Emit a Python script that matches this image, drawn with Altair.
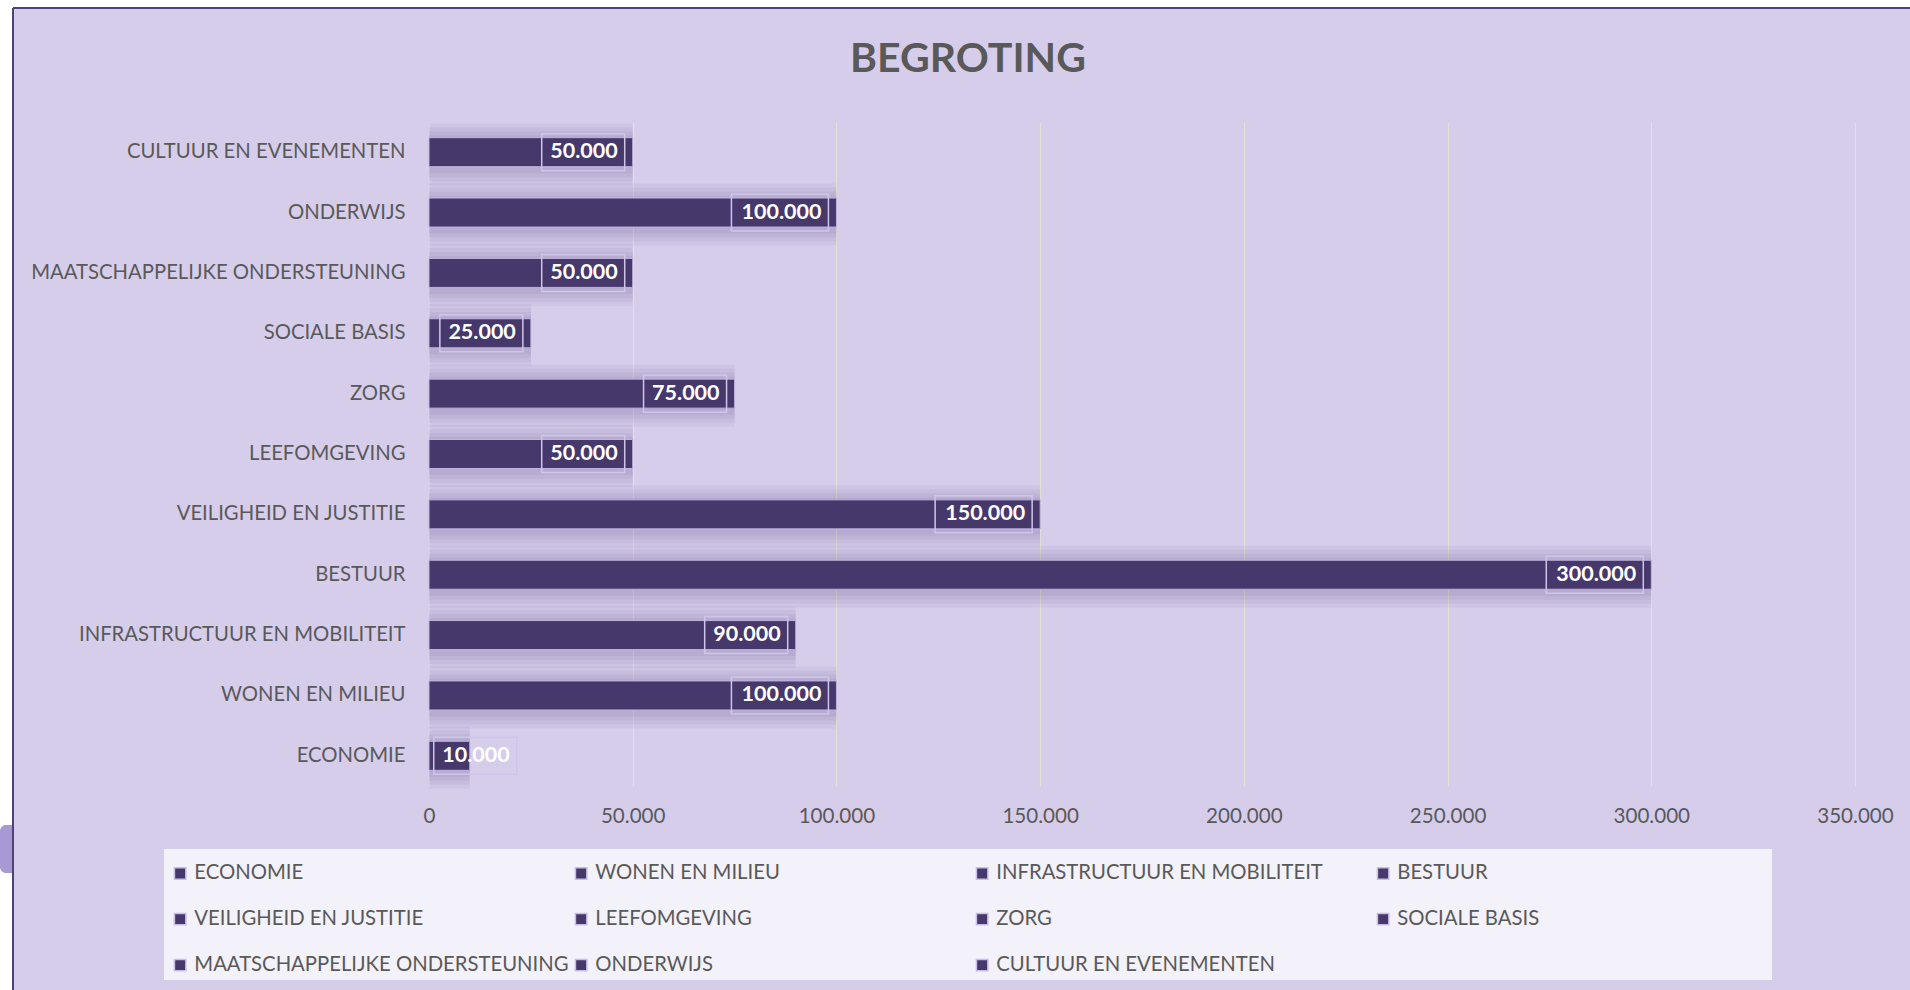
import altair as alt
import pandas as pd

categories = [
    "ECONOMIE",
    "WONEN EN MILIEU",
    "INFRASTRUCTUUR EN MOBILITEIT",
    "BESTUUR",
    "VEILIGHEID EN JUSTITIE",
    "LEEFOMGEVING",
    "ZORG",
    "SOCIALE BASIS",
    "MAATSCHAPPELIJKE ONDERSTEUNING",
    "ONDERWIJS",
    "CULTUUR EN EVENEMENTEN",
]
values = [10000, 100000, 90000, 300000, 150000, 50000, 75000, 25000, 50000, 100000, 50000]
x_ticks = [0, 50000, 100000, 150000, 200000, 250000, 300000, 350000]

BG = "#D6CDEB"
BAR = "#46386A"
TXT = "#595959"
FONT = "Lato"

df = pd.DataFrame({"cat": categories, "value": values})

W, H = 1426, 664
PAD = {"left": 429, "top": 122, "right": 1910 - 429 - W, "bottom": 990 - 122 - H}

y_enc = alt.Y(
    "cat:N",
    sort=categories[::-1],
    scale=alt.Scale(paddingInner=0, paddingOuter=0),
    axis=alt.Axis(
        title=None, labelFontSize=20.3, labelColor=TXT, labelFont=FONT,
        labelPadding=24, ticks=False, domain=False, grid=False, labelLimit=500,
    ),
)
x_scale = alt.Scale(domain=[0, 350000], nice=False, zero=True)
x_axis = alt.Axis(
    title=None, values=x_ticks, labelFontSize=20.6, labelColor=TXT, labelFont=FONT,
    labelPadding=20, ticks=False, domain=False, grid=True, gridColor="#E2E0D8",
    gridWidth=1.2, labelFlush=False,
    labelExpr="replace(format(datum.value, ','), ',', '.')",
)

base = alt.Chart(df)

shadow_specs = [(62, 32), (54, 22), (46, 14), (38, 6)]
shadows = []
for i, (sz, xo) in enumerate(shadow_specs):
    enc_x = alt.X("value:Q", scale=x_scale, axis=x_axis) if i == 0 else alt.X("value:Q", scale=x_scale)
    shadows.append(
        base.mark_bar(size=sz, color="#3a2d5a", opacity=0.05, x2Offset=xo, yOffset=2).encode(
            x=enc_x, y=y_enc
        )
    )

bars = base.mark_bar(size=29, stroke="#BEB2DE", strokeWidth=1).encode(
    x=alt.X("value:Q", scale=x_scale),
    y=y_enc,
    color=alt.Color(
        "cat:N",
        scale=alt.Scale(domain=categories, range=[BAR] * len(categories)),
        legend=alt.Legend(
            title=None, orient="none", legendX=164 - 429 - 4, legendY=849 - 122 + 4,
            columns=4, gridAlign="all", columnPadding=2, rowPadding=25,
            symbolType="square", symbolSize=130, symbolStrokeColor="#C8BDE6",
            symbolStrokeWidth=1.5, labelFontSize=20.3, labelColor=TXT, labelFont=FONT,
            labelLimit=500, labelOffset=4, padding=10,
            direction="horizontal",
        ),
    ),
)

lab = base.transform_calculate(
    anchor="max(datum.value, 23500)",
    label="replace(format(datum.value, ','), ',', '.')",
    wide="datum.value >= 100000",
)

box6 = lab.transform_filter("!datum.wide").mark_bar(
    size=37, fillOpacity=0, stroke="#CFC5EA", strokeWidth=1.5, xOffset=-91, x2Offset=-8
).encode(x=alt.X("anchor:Q", scale=x_scale), x2="anchor:Q", y=y_enc)
box7 = lab.transform_filter("datum.wide").mark_bar(
    size=37, fillOpacity=0, stroke="#CFC5EA", strokeWidth=1.5, xOffset=-105, x2Offset=-8
).encode(x=alt.X("anchor:Q", scale=x_scale), x2="anchor:Q", y=y_enc)

texts = lab.mark_text(
    align="right", baseline="middle", dx=-15, fontSize=21.5, fontWeight="bold",
    color="white", font=FONT,
).encode(x=alt.X("anchor:Q", scale=x_scale), y=y_enc, text="label:N")

deco = pd.DataFrame({"k": [0]})
dbase = alt.Chart(deco)
legend_box = dbase.mark_rect(color="#F3F1F9").encode(
    x=alt.value(164 - 429), x2=alt.value(1772 - 429), y=alt.value(849 - 122), y2=alt.value(980 - 122)
)
white_left = dbase.mark_rect(color="white").encode(
    x=alt.value(-429), x2=alt.value(-417), y=alt.value(-122), y2=alt.value(H + PAD["bottom"])
)
white_top = dbase.mark_rect(color="white").encode(
    x=alt.value(-429), x2=alt.value(W + PAD["right"]), y=alt.value(-122), y2=alt.value(-114)
)
blob = dbase.mark_rect(color="#A898D3", cornerRadiusTopLeft=6, cornerRadiusBottomLeft=6).encode(
    x=alt.value(-429), x2=alt.value(-416), y=alt.value(825 - 122), y2=alt.value(873 - 122)
)
frame_left = dbase.mark_rule(color="#4E4178", strokeWidth=2).encode(
    x=alt.value(-416), y=alt.value(-114), y2=alt.value(H + PAD["bottom"])
)
frame_top = dbase.mark_rule(color="#4E4178", strokeWidth=2).encode(
    x=alt.value(-416), x2=alt.value(W + PAD["right"]), y=alt.value(-114)
)
title = dbase.mark_text(
    text="BEGROTING", font=FONT, fontSize=41, fontWeight="bold", color=TXT,
    align="center", baseline="middle",
).encode(x=alt.value(968 - 429), y=alt.value(60 - 122))

chart = alt.layer(
    *shadows, bars, box6, box7, texts, legend_box,
    white_left, white_top, blob, frame_left, frame_top, title,
).properties(
    width=W, height=H, background=BG, padding=PAD,
    autosize=alt.AutoSizeParams(type="none"),
).configure_view(stroke=None)

chart.save("out.html", embed_options={"renderer": "svg", "actions": False})
